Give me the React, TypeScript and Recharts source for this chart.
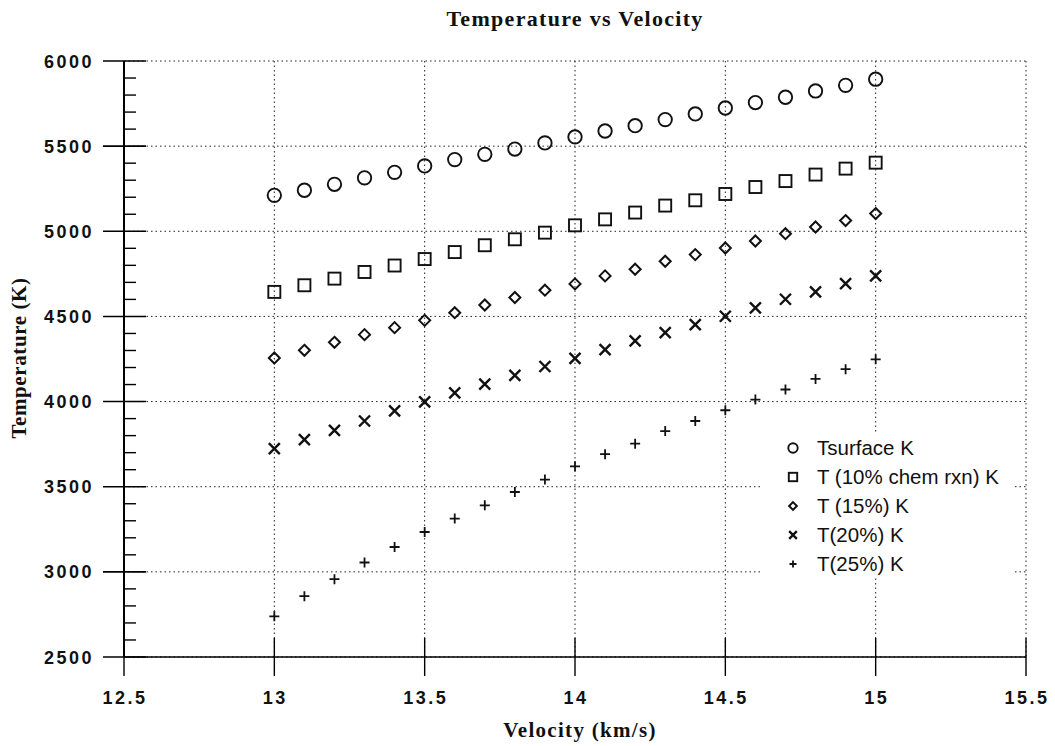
import React from 'react';
import { ScatterChart, Scatter, XAxis, YAxis, CartesianGrid, ReferenceLine, Legend } from 'recharts';

// velocity (km/s) for every series
const VELOCITY = [13, 13.1, 13.2, 13.3, 13.4, 13.5, 13.6, 13.7, 13.8, 13.9, 14, 14.1, 14.2, 14.3, 14.4, 14.5, 14.6, 14.7, 14.8, 14.9, 15];

// temperatures (K)
const T_SURFACE = [5211, 5241, 5276, 5314, 5346, 5384, 5421, 5452, 5483, 5519, 5554, 5589, 5620, 5656, 5689, 5724, 5756, 5787, 5824, 5857, 5893];
const T_10 = [4644, 4683, 4722, 4761, 4799, 4837, 4878, 4918, 4953, 4992, 5035, 5070, 5110, 5151, 5182, 5219, 5260, 5295, 5333, 5368, 5403];
const T_15 = [4256, 4301, 4348, 4393, 4434, 4477, 4522, 4567, 4611, 4654, 4691, 4738, 4777, 4824, 4863, 4902, 4943, 4986, 5025, 5063, 5104];
const T_20 = [3724, 3777, 3831, 3886, 3945, 3998, 4051, 4102, 4154, 4206, 4254, 4305, 4356, 4405, 4452, 4501, 4550, 4601, 4644, 4693, 4738];
const T_25 = [2739, 2857, 2957, 3055, 3146, 3234, 3313, 3391, 3469, 3542, 3620, 3691, 3753, 3827, 3886, 3949, 4012, 4071, 4133, 4190, 4248];

const X_TICKS = [12.5, 13, 13.5, 14, 14.5, 15, 15.5];
const Y_TICKS = [2500, 3000, 3500, 4000, 4500, 5000, 5500, 6000];
const Y_MINOR = [
  2600, 2700, 2800, 2900, 3100, 3200, 3300, 3400, 3600, 3700, 3800, 3900,
  4100, 4200, 4300, 4400, 4600, 4700, 4800, 4900, 5100, 5200, 5300, 5400,
  5600, 5700, 5800, 5900,
];

type Kind = 'circle' | 'square' | 'diamond' | 'cross' | 'plus';

const SERIES: { name: string; values: number[]; kind: Kind }[] = [
  { name: 'Tsurface K', values: T_SURFACE, kind: 'circle' },
  { name: 'T (10% chem rxn) K', values: T_10, kind: 'square' },
  { name: 'T (15%) K', values: T_15, kind: 'diamond' },
  { name: 'T(20%) K', values: T_20, kind: 'cross' },
  { name: 'T(25%) K', values: T_25, kind: 'plus' },
];

const toPoints = (values: number[]) => VELOCITY.map((v, i) => ({ v, t: values[i] }));

const TICK_FONT = '"Liberation Sans", Arial, sans-serif';
const TITLE_FONT = '"Liberation Serif", "Times New Roman", serif';

const Marker = ({ kind, cx, cy, s = 1 }: { kind: Kind; cx: number; cy: number; s?: number }) => {
  const c = '#111';
  switch (kind) {
    case 'circle':
      return <circle cx={cx} cy={cy} r={6.7 * s} fill="none" stroke={c} strokeWidth={1.9} />;
    case 'square':
      return <rect x={cx - 6 * s} y={cy - 6 * s} width={12 * s} height={12 * s} fill="none" stroke={c} strokeWidth={1.9} />;
    case 'diamond': {
      const d = 5.5 * s;
      return <path d={`M${cx},${cy - d}L${cx + d},${cy}L${cx},${cy + d}L${cx - d},${cy}Z`} fill="none" stroke={c} strokeWidth={2} />;
    }
    case 'cross': {
      const d = 5.5 * s;
      return <path d={`M${cx - d},${cy - d}L${cx + d},${cy + d}M${cx - d},${cy + d}L${cx + d},${cy - d}`} stroke={c} strokeWidth={2.4} />;
    }
    default: {
      const d = 5 * s;
      return <path d={`M${cx - d},${cy}L${cx + d},${cy}M${cx},${cy - d}L${cx},${cy + d}`} stroke={c} strokeWidth={1.8} />;
    }
  }
};

const YTick = (props: any) => {
  const { x, y, payload } = props;
  return (
    <g>
      <line x1={x - 21} x2={x + 22} y1={y} y2={y} stroke="#000" strokeWidth={1.6} />
      <text x={x - 30} y={y + 6.5} textAnchor="end" fontFamily={TICK_FONT} fontWeight="bold" fontSize={18} letterSpacing={2.5} fill="#111">
        {payload.value}
      </text>
    </g>
  );
};

const XTick = (props: any) => {
  const { x, y, payload } = props;
  const first = payload.value === X_TICKS[0];
  return (
    <g>
      <line x1={x} x2={x} y1={first ? y : y - 19} y2={y + 19} stroke="#000" strokeWidth={1.4} />
      <text x={x + 1} y={y + 47} textAnchor="middle" fontFamily={TICK_FONT} fontWeight="bold" fontSize={18} letterSpacing={2.5} fill="#111">
        {payload.value}
      </text>
    </g>
  );
};

const LegendBox = () => (
  <div style={{ fontFamily: TICK_FONT, fontSize: 20.5, color: '#111' }}>
    {SERIES.map((s) => (
      <div key={s.name} style={{ height: 29, display: 'flex', alignItems: 'center', position: 'relative' }}>
        <svg width={20} height={20} style={{ position: 'absolute', left: 20, top: 4.5 }}>
          <Marker kind={s.kind} cx={10} cy={10} s={0.7} />
        </svg>
        <span style={{ marginLeft: 54, whiteSpace: 'nowrap' }}>{s.name}</span>
      </div>
    ))}
  </div>
);

export default function App() {
  return (
    <div style={{ position: 'absolute', left: 0, top: 0, width: 1055, height: 746, background: '#fff' }}>
      <ScatterChart width={1055} height={746} margin={{ top: 61, right: 29, bottom: 49, left: 64 }}>
        <CartesianGrid stroke="#222" strokeDasharray="1.5 3" strokeWidth={1} />
        <XAxis
          type="number"
          dataKey="v"
          domain={[12.5, 15.5]}
          ticks={X_TICKS}
          interval={0}
          height={40}
          tickSize={0}
          tickMargin={0}
          tickLine={false}
          tick={<XTick />}
          axisLine={{ stroke: '#000', strokeWidth: 1.6 }}
          allowDataOverflow
        />
        <YAxis
          type="number"
          dataKey="t"
          domain={[2500, 6000]}
          ticks={Y_TICKS}
          interval={0}
          width={60}
          tickSize={0}
          tickMargin={0}
          tickLine={false}
          tick={<YTick />}
          axisLine={{ stroke: '#000', strokeWidth: 2 }}
          allowDataOverflow
        />
        {Y_MINOR.map((m) => (
          <ReferenceLine
            key={m}
            segment={[{ x: 12.5, y: m }, { x: 12.54, y: m }]}
            stroke="#000"
            strokeWidth={1.4}
            ifOverflow="visible"
          />
        ))}
        {SERIES.map((s) => (
          <Scatter
            key={s.name}
            name={s.name}
            data={toPoints(s.values)}
            isAnimationActive={false}
            shape={(p: any) => <Marker kind={s.kind} cx={p.cx} cy={p.cy} />}
          />
        ))}
        <Legend
          layout="vertical"
          align="center"
          verticalAlign="middle"
          wrapperStyle={{ left: 763, top: 433, width: 250, height: 145, background: '#fff' }}
          content={() => <LegendBox />}
        />
      </ScatterChart>

      {/* titles */}
      <svg width={1055} height={746} style={{ position: 'absolute', left: 0, top: 0, pointerEvents: 'none' }}>
        <g fontFamily={TITLE_FONT} fontWeight="bold" fill="#111">
          <text x={575} y={26} textAnchor="middle" fontSize={22} letterSpacing={1.3}>
            Temperature vs Velocity
          </text>
          <text x={580} y={737} textAnchor="middle" fontSize={21} letterSpacing={1.3}>
            Velocity (km/s)
          </text>
          <text x={26} y={358} textAnchor="middle" fontSize={21} letterSpacing={0.6} transform="rotate(-90 26 358)">
            Temperature (K)
          </text>
        </g>
      </svg>
    </div>
  );
}
